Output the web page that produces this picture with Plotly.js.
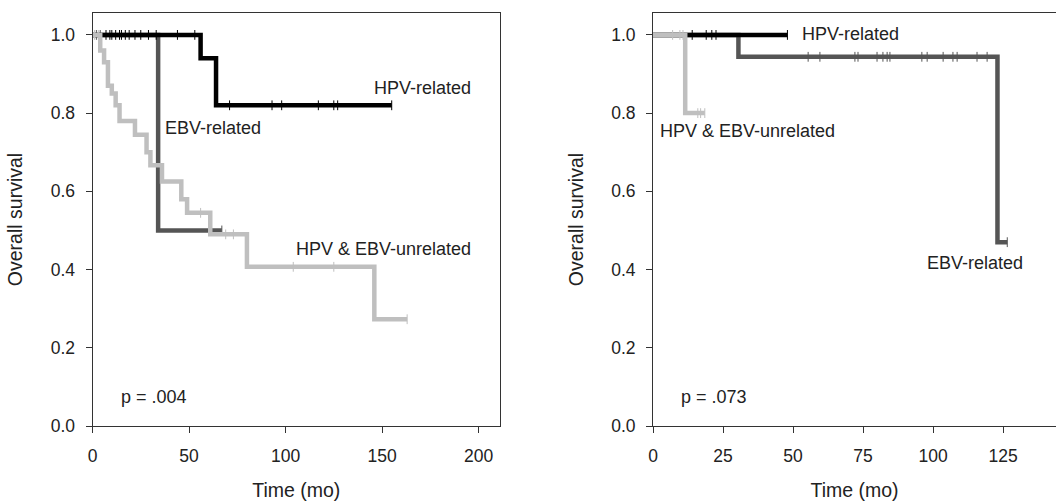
<!DOCTYPE html>
<html>
<head>
<meta charset="utf-8">
<script src="https://cdn.plot.ly/plotly-3.0.1.min.js"></script>
<style>html,body{margin:0;padding:0;background:#fff}#chart{width:1056px;height:504px}</style>
</head>
<body>
<div id="chart"></div>
<script>
// ---------- Left panel (p = .004) ----------
var L_hpv_t = [0, 56, 64, 155];
var L_hpv_s = [1.0, 0.94, 0.82, 0.82];
var L_hpv_cens = [7, 9, 10, 12, 14, 15, 17, 19, 22, 25, 29, 33, 44, 53, 71, 93, 98, 117, 125, 127, 155];

var L_ebv_t = [0, 34, 67];
var L_ebv_s = [1.0, 0.5, 0.5];
var L_ebv_cens = [2, 4, 67];

var L_unr_t = [0, 4, 6, 8, 10, 12, 14, 22, 28, 30, 36, 46, 49, 61, 80, 146, 163];
var L_unr_s = [1.0, 0.96, 0.93, 0.87, 0.85, 0.82, 0.78, 0.745, 0.70, 0.667, 0.625, 0.58, 0.545, 0.49, 0.407, 0.273, 0.273];
var L_unr_cens = [1, 3, 56, 69, 73, 104, 125, 163];

// ---------- Right panel (p = .073) ----------
var R_hpv_t = [0, 48];
var R_hpv_s = [1.0, 1.0];
var R_hpv_cens = [14, 19, 21, 22.5, 48];

var R_ebv_t = [0, 30.5, 123, 126.5];
var R_ebv_s = [1.0, 0.944, 0.47, 0.47];
var R_ebv_cens = [55.4, 59.6, 72.1, 73.2, 80, 82.1, 83.6, 84.6, 96, 97.9, 103.6, 107.1, 108.6, 115.7, 119.3, 126.5];

var R_unr_t = [0, 11.5, 18.5];
var R_unr_s = [1.0, 0.8, 0.8];
var R_unr_cens = [7, 9.6, 10.7, 16, 17, 18.5];

var xTicksL = [0, 50, 100, 150, 200];
var xTicksR = [0, 25, 50, 75, 100, 125];
var yTicks = [0, 0.2, 0.4, 0.6, 0.8, 1.0];
var yTickText = ['0.0', '0.2', '0.4', '0.6', '0.8', '1.0'];

var C_HPV = '#000000', C_EBV = '#555555', C_UNR = '#bfbfbf';

function stepAt(ts, ss, x) {
  var v = ss[0];
  for (var i = 0; i < ts.length; i++) { if (ts[i] <= x) v = ss[i]; }
  return v;
}
function curve(ts, ss, color, xa, ya) {
  return {x: ts, y: ss, xaxis: xa, yaxis: ya, mode: 'lines', type: 'scatter',
    line: {shape: 'hv', color: color, width: 4.5}, hoverinfo: 'skip', showlegend: false};
}
function cens(ts, ss, cs, color, xa, ya) {
  return {x: cs, y: cs.map(function (c) { return stepAt(ts, ss, c); }), xaxis: xa, yaxis: ya,
    mode: 'markers', type: 'scatter',
    marker: {symbol: 'line-ns', size: 7, line: {color: color, width: 1}},
    hoverinfo: 'skip', showlegend: false};
}

var data = [
  curve(L_ebv_t, L_ebv_s, C_EBV, 'x', 'y'), cens(L_ebv_t, L_ebv_s, L_ebv_cens, C_EBV, 'x', 'y'),
  curve(L_hpv_t, L_hpv_s, C_HPV, 'x', 'y'), cens(L_hpv_t, L_hpv_s, L_hpv_cens, C_HPV, 'x', 'y'),
  curve(L_unr_t, L_unr_s, C_UNR, 'x', 'y'), cens(L_unr_t, L_unr_s, L_unr_cens, C_UNR, 'x', 'y'),
  curve(R_ebv_t, R_ebv_s, C_EBV, 'x2', 'y2'), cens(R_ebv_t, R_ebv_s, R_ebv_cens, C_EBV, 'x2', 'y2'),
  curve(R_hpv_t, R_hpv_s, C_HPV, 'x2', 'y2'), cens(R_hpv_t, R_hpv_s, R_hpv_cens, C_HPV, 'x2', 'y2'),
  curve(R_unr_t, R_unr_s, C_UNR, 'x2', 'y2'), cens(R_unr_t, R_unr_s, R_unr_cens, C_UNR, 'x2', 'y2')
];

var FONT = 'Liberation Sans, Arial, Helvetica, sans-serif';
var TXT = '#222';
var axisCommon = {showline: true, linecolor: '#333', linewidth: 1, ticks: 'outside', ticklen: 6,
  tickcolor: '#333', tickwidth: 1, showgrid: false, zeroline: false,
  tickfont: {family: FONT, size: 17.5, color: TXT}, fixedrange: true};

function ax(extra) { return Object.assign({}, axisCommon, extra); }
var titleFont = {family: FONT, size: 19.5, color: TXT};

var ann = function (text, x, y, xr, yr) {
  return {text: text, x: x, y: y, xref: xr, yref: yr, showarrow: false,
    font: {family: FONT, size: 18, color: TXT}, xanchor: 'center', yanchor: 'middle'};
};

var layout = {
  width: 1056, height: 504,
  margin: {l: 0, r: 0, t: 13, b: 78},
  paper_bgcolor: '#fff', plot_bgcolor: '#fff',
  font: {family: FONT, color: TXT},
  xaxis: ax({domain: [92.5 / 1056, 500 / 1056], range: [0, 211.1], tickvals: xTicksL,
    mirror: true, anchor: 'y', ticklabelstandoff: 8,
    title: {text: 'Time (mo)', font: titleFont, standoff: 18}}),
  yaxis: ax({domain: [0, 1], range: [0, 1.056], tickvals: yTicks, ticktext: yTickText,
    mirror: true, anchor: 'x', ticklabelstandoff: 7,
    title: {text: 'Overall survival', font: titleFont, standoff: 22}}),
  xaxis2: ax({domain: [653 / 1056, 1], range: [0, 143.9], tickvals: xTicksR,
    mirror: true, anchor: 'y2', ticklabelstandoff: 8,
    title: {text: 'Time (mo)', font: titleFont, standoff: 18}}),
  yaxis2: ax({domain: [0, 1], range: [0, 1.056], tickvals: yTicks, ticktext: yTickText,
    mirror: false, anchor: 'x2', ticklabelstandoff: 7,
    title: {text: 'Overall survival', font: titleFont, standoff: 22}}),
  annotations: [
    ann('HPV-related', 171, 0.864, 'x', 'y'),
    ann('EBV-related', 62.4, 0.762, 'x', 'y'),
    ann('HPV &amp; EBV-unrelated', 150.5, 0.453, 'x', 'y'),
    ann('p = .004', 32, 0.074, 'x', 'y'),
    ann('HPV-related', 70.4, 1.003, 'x2', 'y2'),
    ann('HPV &amp; EBV-unrelated', 33.6, 0.755, 'x2', 'y2'),
    ann('EBV-related', 115, 0.418, 'x2', 'y2'),
    ann('p = .073', 21.8, 0.074, 'x2', 'y2')
  ]
};

Plotly.newPlot('chart', data, layout, {staticPlot: true, displayModeBar: false});
</script>
</body>
</html>
